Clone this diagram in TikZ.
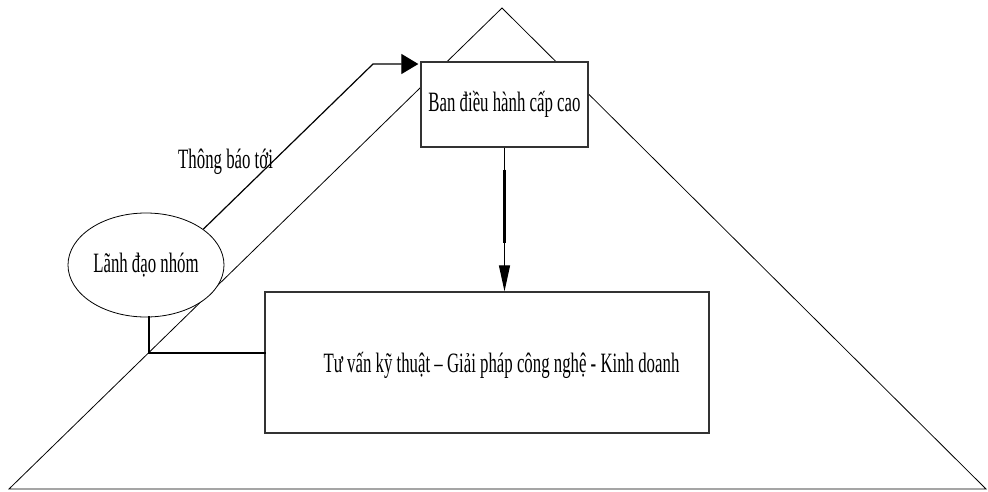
\documentclass[tikz,border=0pt]{standalone}
\usepackage{fontspec}
\setmainfont{Liberation Serif}
\newfontfamily\narrowserif[FakeStretch=0.6]{Liberation Serif}
\usetikzlibrary{arrows.meta,calc,shapes.geometric}
\begin{document}
\begin{tikzpicture}[x=1pt,y=-1pt,
  outline/.style={draw=black,line width=0.8pt},
  box/.style={draw=black!80,line width=1.3pt,fill=white,inner sep=0pt,
    font=\narrowserif\fontsize{28}{30}\selectfont},
  lbl/.style={inner sep=0pt,font=\narrowserif\fontsize{28}{30}\selectfont},
  link/.style={draw=black,line width=1.2pt},
  heavylink/.style={draw=black,line width=2.6pt},
  bigtip/.style={-{Triangle[length=17pt,width=20pt]}},
  slimtip/.style={-{Triangle[length=26pt,width=11pt]}}]
  \useasboundingbox (0,0) rectangle (988,491);

  % pyramid outline
  \coordinate (apex) at (502,8);
  \coordinate (baseL) at (9,489);
  \coordinate (baseR) at (986,489);
  \draw[outline,line join=miter] (apex) -- (baseL) -- (baseR) -- cycle;

  % boxes and the team-lead ellipse
  \node[box,minimum width=167pt,minimum height=85pt] (top) at (504.5,104.5)
    {\raisebox{-1pt}{Ban điều hành cấp cao}};
  \node[box,minimum width=444pt,minimum height=141pt] (base) at (487,362.5) {};
  \node[lbl,anchor=base] (basetext) at (501.5,372)
    {Tư vấn kỹ thuật – Giải pháp công nghệ - Kinh doanh};
  \node[draw=black,line width=0.8pt,fill=white,ellipse,inner sep=0pt,
    minimum width=156pt,minimum height=104pt,
    font=\narrowserif\fontsize{28}{30}\selectfont] (lead) at (146,265)
    {\raisebox{-3pt}{Lãnh đạo nhóm}};

  % report line from the team lead to senior management
  \coordinate (bend) at (373,64);
  \draw[link,bigtip,shorten >=2pt] (lead.32) -- (bend) -- (bend -| top.west);
  \node[lbl,anchor=base west] (report) at (178,168) {Thông báo tới};

  % senior management down to the business units
  \draw[link,slimtip] (top.south) -- (top.south |- base.north);
  \draw[link,line width=3.2pt] ($(top.south)+(0,22)$) -- ($(top.south)+(0,95)$);

  % team lead link into the business units
  \coordinate (elbow) at (149,353);
  \draw[heavylink,line cap=rect] ([xshift=3pt]lead.south) -- (elbow) -- (elbow -| base.west);
\end{tikzpicture}
\end{document}
